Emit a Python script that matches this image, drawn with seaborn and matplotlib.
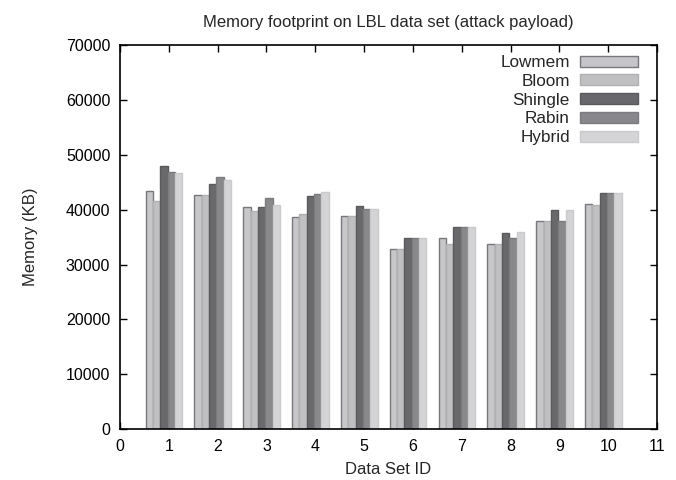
"""Memory footprint on LBL data set (attack payload) - grouped bars."""

import matplotlib

matplotlib.use("Agg")
import matplotlib.pyplot as plt
import pandas as pd
import seaborn as sns
from matplotlib.patches import Patch

# data (KB)
data_set_ids = [1, 2, 3, 4, 5, 6, 7, 8, 9, 10]
series_names = ["Lowmem", "Bloom", "Shingle", "Rabin", "Hybrid"]
lowmem = [43400, 42700, 40500, 38600, 38900, 32800, 34800, 33800, 37900, 41000]
bloom = [41600, 42600, 39800, 39200, 38800, 32800, 33800, 33800, 37900, 40900]
shingle = [48000, 44700, 40500, 42500, 40600, 34800, 36900, 35800, 39900, 43000]
rabin = [46900, 45900, 42100, 42800, 40200, 34800, 36900, 34800, 37900, 43000]
hybrid = [46700, 45400, 40900, 43300, 40200, 34800, 36900, 35900, 39900, 43000]

fills = ["#c6c6ca", "#c0c0c2", "#68686c", "#88888c", "#d4d4d6"]
edges = ["#78787c", "#b0b0b2", "#5a5a5e", "#7c7c80", "#cacacc"]
offsets = [-0.4, -0.25, -0.1, 0.05, 0.2]

records = []
for name, values, off in zip(series_names, [lowmem, bloom, shingle, rabin, hybrid], offsets):
    for ds, v in zip(data_set_ids, values):
        records.append({"pos": round(ds + off, 2), "memory": v, "series": name})
df = pd.DataFrame(records)

sns.set_style("ticks")
plt.rcParams["font.family"] = ["Liberation Sans", "DejaVu Sans"]
plt.rcParams["font.size"] = 12

fig = plt.figure(figsize=(6.76, 4.8), dpi=100)
ax = fig.add_axes([0.1775, 0.106, 0.7945, 0.8])

sns.barplot(
    data=df,
    x="pos",
    y="memory",
    hue="series",
    hue_order=series_names,
    palette=fills,
    native_scale=True,
    dodge=False,
    width=1.0,
    errorbar=None,
    legend=False,
    ax=ax,
)

for container, ec in zip(ax.containers, edges):
    for bar in container:
        bar.set_edgecolor(ec)
        bar.set_linewidth(1.0)

ax.set_xlim(0, 11)
ax.set_ylim(0, 70000)
ax.set_xticks(range(0, 12))
ax.set_xticklabels([str(i) for i in range(0, 12)])
ax.set_yticks(range(0, 70001, 10000))
ax.tick_params(direction="in", length=5, width=1, top=True, right=True,
               labelsize=11.5, colors="black", pad=7)
for spine in ax.spines.values():
    spine.set_visible(True)
    spine.set_linewidth(1.2)
    spine.set_color("black")

ax.set_xlabel("Data Set ID", fontsize=12, labelpad=6)
ax.set_ylabel("Memory (KB)", fontsize=12, labelpad=20)
ax.set_title("Memory footprint on LBL data set (attack payload)", fontsize=12, pad=13)

handles = [Patch(facecolor=f, edgecolor=e, linewidth=1.0) for f, e in zip(fills, edges)]
ax.legend(handles, series_names, loc="upper right", frameon=False, markerfirst=False,
          handlelength=3.4, handleheight=0.6, labelspacing=0.22, handletextpad=0.6,
          borderaxespad=0.3, fontsize=12.3, bbox_to_anchor=(0.987, 1.005))

fig.savefig("out.png", dpi=100)
plt.close(fig)
